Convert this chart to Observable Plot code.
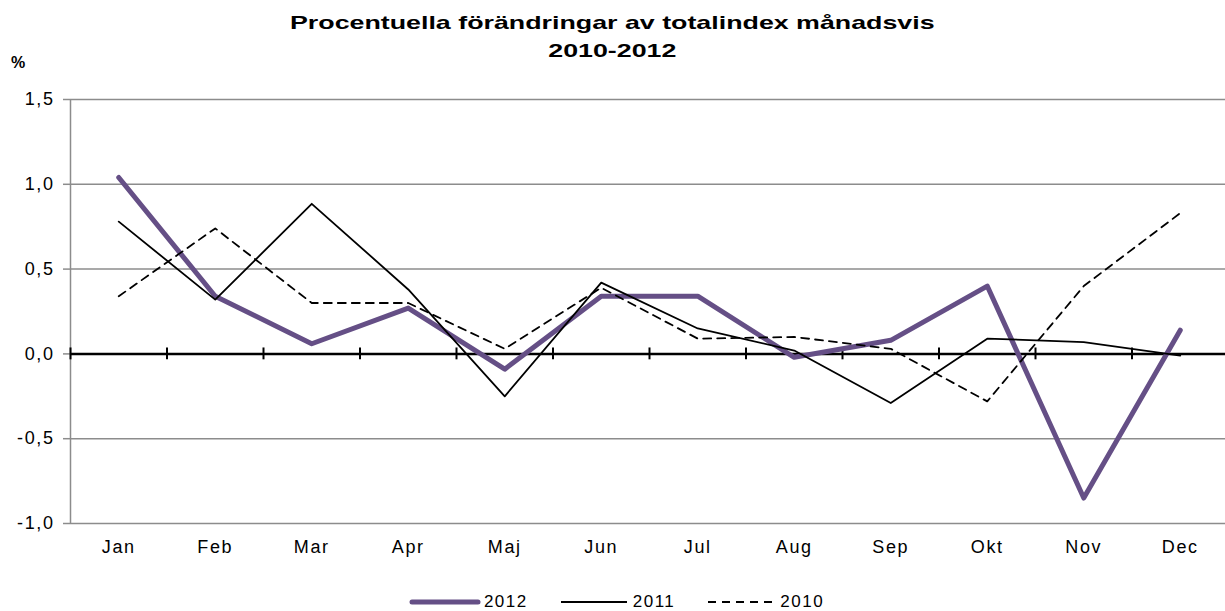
<!DOCTYPE html>
<html><head><meta charset="utf-8">
<script src="https://cdn.jsdelivr.net/npm/d3@7"></script>
<script src="https://cdn.jsdelivr.net/npm/@observablehq/plot@0.6"></script>
<style>
body{margin:0;background:#fff;font-family:"Liberation Sans",Arial,sans-serif;}
#wrap{position:relative;width:1225px;height:611px;overflow:hidden;}
#title{position:absolute;left:0;top:9px;width:1225px;text-align:center;font-weight:bold;font-size:19px;line-height:28px;color:#000;transform:scaleX(1.41);transform-origin:613px 0;}
#pct{position:absolute;left:11px;top:54px;font-weight:bold;font-size:16px;letter-spacing:1px;}
#chart{position:absolute;left:0;top:70px;width:1225px;}
#chart svg{max-width:none !important;}
#chart svg text{font-size:18px !important;letter-spacing:1.6px;font-family:"Liberation Sans",Arial,sans-serif;fill:#000;}
#legend{position:absolute;left:0;top:592px;width:1225px;display:flex;justify-content:center;align-items:center;font-size:17px;letter-spacing:1.5px;line-height:20px;padding-left:8px;box-sizing:border-box;}
.item{display:flex;align-items:center;margin:0 15px;}
.item svg{margin-right:3px;}
</style>
</head><body>
<div id="wrap">
<div id="title">Procentuella förändringar av totalindex månadsvis<br>2010-2012</div>
<div id="pct">%</div>
<div id="chart"></div>
<div id="legend"></div>
</div>
<script>
const months = ["Jan","Feb","Mar","Apr","Maj","Jun","Jul","Aug","Sep","Okt","Nov","Dec"];
const v2012 = [1.04,0.34,0.06,0.27,-0.09,0.34,0.34,-0.02,0.08,0.40,-0.85,0.14];
const v2011 = [0.78,0.32,0.885,0.38,-0.25,0.42,0.15,0.02,-0.29,0.09,0.07,-0.01];
const v2010 = [0.34,0.74,0.30,0.30,0.03,0.39,0.09,0.10,0.03,-0.28,0.40,0.83];
const yTicks = [-1,-0.5,0,0.5,1,1.5];
const boundaries = [0,1,2,3,4,5,6,7,8,9,10,11,12];

const purple = "#654f86";
const mk = (vals) => vals.map((v,i)=>({x:i+0.5, y:v}));
const fmt = d => d3.format(".1f")(d).replace(".",",").replace("−","-");

const plot = Plot.plot({
  width:1225, height:510,
  marginTop:29, marginBottom:57, marginLeft:70, marginRight:0,
  style:{fontFamily:"'Liberation Sans',Arial,sans-serif", fontSize:"18px", color:"#000", background:"#fff"},
  x:{domain:[0,12], range:[70,1228]},
  y:{domain:[-1,1.5]},
  marks:[
    Plot.ruleY(yTicks.filter(d=>d!==0), {stroke:"#8c8c8c", strokeWidth:1.5}),
    Plot.ruleX([0], {y1:-1, y2:1.5, stroke:"#8c8c8c", strokeWidth:1.5}),
    Plot.axisY(yTicks, {tickSize:7, tickPadding:9, stroke:"#8c8c8c", strokeWidth:1.5, tickFormat:fmt, label:null, fill:"#000", fontSize:18}),
    Plot.axisX(months.map((m,i)=>i+0.5), {tickSize:0, tickPadding:17, tickFormat:d=>months[Math.round(d-0.5)], label:null, fontSize:18}),
    Plot.ruleY([0], {stroke:"#000", strokeWidth:2.5}),
    Plot.ruleX(boundaries, {y1:-0.035, y2:0.035, stroke:"#000", strokeWidth:2}),
    Plot.line(mk(v2012), {x:"x", y:"y", stroke:purple, strokeWidth:5, strokeLinejoin:"round", strokeLinecap:"round"}),
    Plot.line(mk(v2011), {x:"x", y:"y", stroke:"#000", strokeWidth:1.8}),
    Plot.line(mk(v2010), {x:"x", y:"y", stroke:"#000", strokeWidth:1.8, strokeDasharray:"8,6"})
  ]
});
plot.querySelectorAll("text").forEach(t=>{ t.style.fontSize="18px"; t.style.letterSpacing="1.6px"; });
document.getElementById("chart").appendChild(plot);

const legendItems = [
  {label:"2012", stroke:purple, w:5, dash:null, cap:"round"},
  {label:"2011", stroke:"#000", w:1.8, dash:null, cap:"butt"},
  {label:"2010", stroke:"#000", w:1.8, dash:"8,6", cap:"butt"}
];
const lg = document.getElementById("legend");
legendItems.forEach(it=>{
  const d = document.createElement("div"); d.className="item";
  d.innerHTML = `<svg width="72" height="10"><line x1="3" x2="69" y1="5" y2="5" stroke="${it.stroke}" stroke-width="${it.w}" stroke-linecap="${it.cap}" ${it.dash?`stroke-dasharray="${it.dash}"`:""}/></svg><span>${it.label}</span>`;
  lg.appendChild(d);
});
</script>
</body></html>
